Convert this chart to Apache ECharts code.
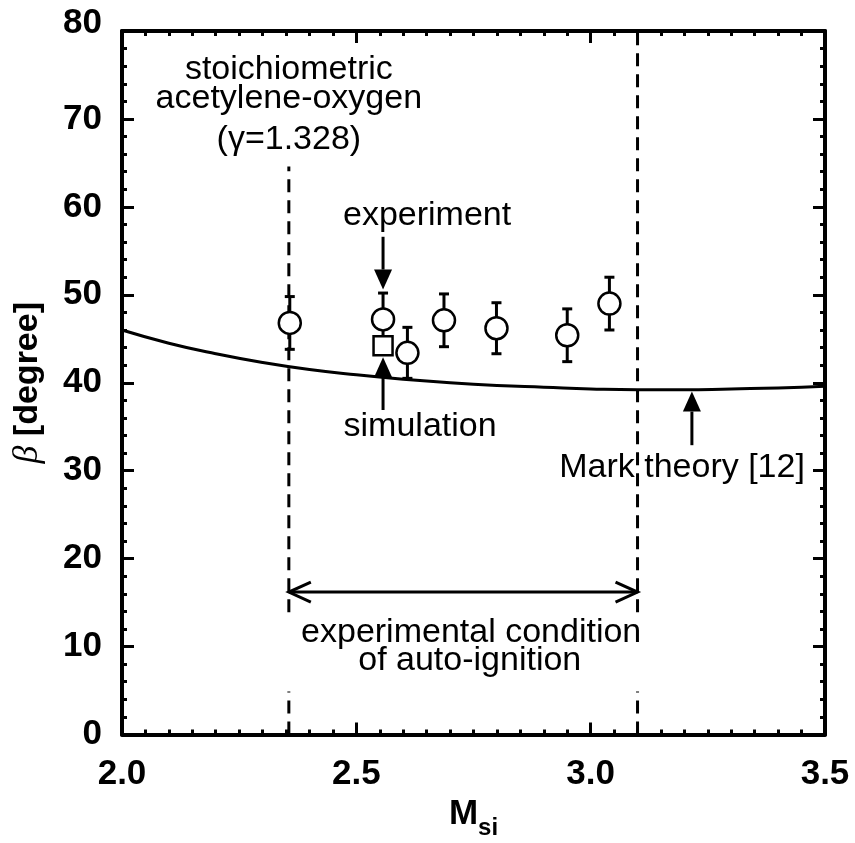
<!DOCTYPE html>
<html><head><meta charset="utf-8">
<script src="https://cdn.jsdelivr.net/npm/echarts@6/dist/echarts.min.js"></script>
<style>html,body{margin:0;padding:0;background:#fff}#chart{width:855px;height:843px}</style>
</head><body><div id="chart"></div>
<script>
// Mark theory: shock angle beta against incident Mach number
const theoryM    = [2.0, 2.1, 2.2, 2.3, 2.4, 2.5, 2.6, 2.7, 2.8, 2.9, 3.0, 3.1, 3.2, 3.3, 3.4, 3.5];
const theoryBeta = [46.0, 44.5, 43.3, 42.3, 41.5, 40.9, 40.4, 40.0, 39.7, 39.5, 39.3, 39.2, 39.2, 39.3, 39.4, 39.6];

// Measured angles with their error half-widths
const expM    = [2.358, 2.557, 2.609, 2.687, 2.799, 2.950, 3.040];
const expBeta = [46.8, 47.2, 43.4, 47.1, 46.2, 45.4, 49.0];
const expErr  = [3.0, 3.0, 2.9, 3.0, 2.9, 3.0, 3.0];

// Simulated angle
const simM    = [2.557];
const simBeta = [44.2];

// Bounds of the auto-ignition range (vertical dashed lines): position, top end,
// and the break left for the caption below the range arrow
const boundM   = [2.356, 3.10];
const boundTop = [64.6, 80];
const boundGap = [4.9, 13.9];
const rangeBeta = 16.2;

// Axis settings
const xTicks = {min: 2.0, max: 3.5, step: 0.5, minorSplit: 10};
const yTicks = {min: 0, max: 80, step: 10, minorSplit: 5};

// Text annotations: [M, beta, text]
const notes = [
  [2.356, 75.6, 'stoichiometric'],
  [2.356, 72.3, 'acetylene-oxygen'],
  [2.356, 67.7, '(\u03b3=1.328)'],
  [2.651, 59.0, 'experiment'],
  [2.636, 35.0, 'simulation'],
  [3.195, 30.4, 'Mark theory [12]'],
  [2.745, 11.6, 'experimental condition'],
  [2.742, 8.4, 'of auto-ignition']
];
// Pointer arrows: [M start, beta start, M tip, beta tip]
const pointers = [
  [2.557, 56.6, 2.557, 50.6],
  [2.557, 36.9, 2.557, 42.9],
  [3.216, 32.9, 3.216, 39.0]
];

const FONT = '"Liberation Sans", Arial, Helvetica, sans-serif';
const BLACK = '#000';

const chart = echarts.init(document.getElementById('chart'), null, {renderer: 'canvas'});

function axisCommon(showLabels) {
  return {
    axisLine: {show: true, onZero: false, lineStyle: {color: BLACK, width: 4}},
    axisTick: {show: true, inside: true, length: 12, lineStyle: {color: BLACK, width: 3}},
    minorTick: {show: true, length: 5, lineStyle: {color: BLACK, width: 3}},
    splitLine: {show: false},
    minorSplitLine: {show: false},
    axisLabel: {show: showLabels, color: BLACK, fontFamily: FONT, fontWeight: 'bold', fontSize: 35}
  };
}

function xAxisDef(pos, showLabels) {
  const a = axisCommon(showLabels);
  a.minorTick.splitNumber = xTicks.minorSplit;
  a.axisLabel.margin = 22;
  a.axisLabel.formatter = v => v.toFixed(1);
  return Object.assign({type: 'value', position: pos, min: xTicks.min, max: xTicks.max, interval: xTicks.step}, a);
}
function yAxisDef(pos, showLabels) {
  const a = axisCommon(showLabels);
  a.minorTick.splitNumber = yTicks.minorSplit;
  a.axisLabel.margin = 20;
  a.axisLabel.formatter = v => (v === yTicks.max ? '{top|' + v + '}' : '{n|' + v + '}');
  a.axisLabel.rich = {
    top: {fontFamily: FONT, fontWeight: 'bold', fontSize: 35, color: BLACK, padding: [0, 0, 16, 0]},
    n: {fontFamily: FONT, fontWeight: 'bold', fontSize: 35, color: BLACK}
  };
  return Object.assign({type: 'value', position: pos, min: yTicks.min, max: yTicks.max, interval: yTicks.step}, a);
}

const xBottom = xAxisDef('bottom', true);
xBottom.name = '{m|M}{s|si}';
xBottom.nameLocation = 'middle';
xBottom.nameGap = 52;
xBottom.nameTextStyle = {
  rich: {
    m: {fontFamily: FONT, fontWeight: 'bold', fontSize: 35, color: BLACK},
    s: {fontFamily: FONT, fontWeight: 'bold', fontSize: 24, color: BLACK, padding: [28, 0, 0, 0]}
  }
};
const yLeft = yAxisDef('left', true);
yLeft.name = '{g|\u03b2} [degree]';
yLeft.nameLocation = 'middle';
yLeft.nameRotate = 90;
yLeft.nameGap = 76;
yLeft.nameTextStyle = {
  fontFamily: FONT, fontWeight: 'bold', fontSize: 34, color: BLACK,
  rich: {g: {fontFamily: '"Liberation Serif", serif', fontStyle: 'italic', fontWeight: 'normal', fontSize: 36, color: BLACK}}
};

function headPoints(tip, from, len, half) {
  const dx = tip[0] - from[0], dy = tip[1] - from[1];
  const d = Math.sqrt(dx * dx + dy * dy) || 1;
  const ux = dx / d, uy = dy / d;
  const bx = tip[0] - ux * len, by = tip[1] - uy * len;
  return {base: [bx, by], left: [bx - uy * half, by + ux * half], right: [bx + uy * half, by - ux * half]};
}

const option = {
  backgroundColor: '#fff',
  animation: false,
  grid: {left: 122, right: 30, top: 31, bottom: 108.5, containLabel: false, outerBoundsMode: 'none'},
  xAxis: [xBottom, xAxisDef('top', false)],
  yAxis: [yLeft, yAxisDef('right', false)],
  series: [
    {
      name: 'Mark theory',
      type: 'line',
      data: theoryM.map((m, i) => [m, theoryBeta[i]]),
      smooth: true,
      showSymbol: false,
      lineStyle: {color: BLACK, width: 3},
      z: 2
    },
    {
      name: 'bounds',
      type: 'custom',
      data: boundM.map((m, i) => [m, boundTop[i]]),
      renderItem: function (params, api) {
        const m = api.value(0);
        const st = {stroke: BLACK, lineWidth: 3, lineDash: [13, 8]};
        const seg = (b0, b1) => {
          const p0 = api.coord([m, b0]);
          const p1 = api.coord([m, b1]);
          return {type: 'line', shape: {x1: p0[0], y1: p0[1], x2: p1[0], y2: p1[1]}, style: st};
        };
        return {type: 'group', children: [seg(0, boundGap[0]), seg(boundGap[1], api.value(1))]};
      },
      z: 1,
      silent: true
    },
    {
      name: 'error bars',
      type: 'custom',
      data: expM.map((m, i) => [m, expBeta[i] - expErr[i], expBeta[i] + expErr[i]]),
      renderItem: function (params, api) {
        const lo = api.coord([api.value(0), api.value(1)]);
        const hi = api.coord([api.value(0), api.value(2)]);
        const w = 5, st = {stroke: BLACK, lineWidth: 3};
        return {type: 'group', children: [
          {type: 'line', shape: {x1: lo[0], y1: lo[1], x2: hi[0], y2: hi[1]}, style: st},
          {type: 'line', shape: {x1: lo[0] - w, y1: lo[1], x2: lo[0] + w, y2: lo[1]}, style: st},
          {type: 'line', shape: {x1: hi[0] - w, y1: hi[1], x2: hi[0] + w, y2: hi[1]}, style: st}
        ]};
      },
      z: 3
    },
    {
      name: 'experiment',
      type: 'scatter',
      data: expM.map((m, i) => [m, expBeta[i]]),
      symbol: 'circle',
      symbolSize: 22,
      itemStyle: {color: '#fff', borderColor: BLACK, borderWidth: 2.5, opacity: 1},
      z: 4
    },
    {
      name: 'simulation',
      type: 'scatter',
      data: simM.map((m, i) => [m, simBeta[i]]),
      symbol: 'rect',
      symbolSize: 19,
      itemStyle: {color: '#fff', borderColor: BLACK, borderWidth: 2.5, opacity: 1},
      z: 5
    },
    {
      name: 'pointers',
      type: 'custom',
      data: pointers,
      renderItem: function (params, api) {
        const a = api.coord([api.value(0), api.value(1)]);
        const t = api.coord([api.value(2), api.value(3)]);
        const h = headPoints(t, a, 20, 9);
        return {type: 'group', children: [
          {type: 'line', shape: {x1: a[0], y1: a[1], x2: h.base[0], y2: h.base[1]}, style: {stroke: BLACK, lineWidth: 3}},
          {type: 'polygon', shape: {points: [t, h.left, h.right]}, style: {fill: BLACK}}
        ]};
      },
      z: 6
    },
    {
      name: 'range',
      type: 'custom',
      data: [[boundM[0], rangeBeta, boundM[1], rangeBeta]],
      renderItem: function (params, api) {
        const a = api.coord([api.value(0), api.value(1)]);
        const b = api.coord([api.value(2), api.value(3)]);
        const st = {stroke: BLACK, lineWidth: 3, fill: 'none'};
        const ha = headPoints(a, b, 22, 10);
        const hb = headPoints(b, a, 22, 10);
        return {type: 'group', children: [
          {type: 'line', shape: {x1: a[0], y1: a[1], x2: b[0], y2: b[1]}, style: st},
          {type: 'polyline', shape: {points: [ha.left, a, ha.right]}, style: st},
          {type: 'polyline', shape: {points: [hb.left, b, hb.right]}, style: st}
        ]};
      },
      z: 6
    },
    {
      name: 'notes',
      type: 'custom',
      data: notes.map(n => [n[0], n[1]]),
      renderItem: function (params, api) {
        const p = api.coord([api.value(0), api.value(1)]);
        const txt = notes[params.dataIndex][2];
        return {type: 'text', x: p[0], y: p[1], style: {
          text: txt, fill: BLACK, font: '34px ' + FONT,
          align: 'center', verticalAlign: 'middle'
        }};
      },
      z: 7
    }
  ]
};
chart.setOption(option);
</script></body></html>
